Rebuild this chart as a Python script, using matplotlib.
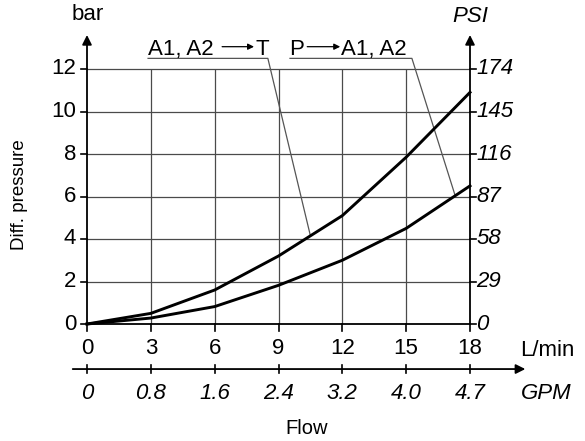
import matplotlib
matplotlib.use("Agg")
import matplotlib.pyplot as plt

plt.rcParams['font.family'] = ['Liberation Sans', 'DejaVu Sans']

# ----------------------------
# Data
# ----------------------------
flow_lpm = [0, 3, 6, 9, 12, 15, 18]
dp_a_to_t = [0, 0.5, 1.6, 3.2, 5.1, 7.85, 10.9]   # A1, A2 -> T
dp_p_to_a = [0, 0.28, 0.82, 1.82, 3.0, 4.5, 6.5]  # P -> A1, A2

bar_ticks = [0, 2, 4, 6, 8, 10, 12]
psi_labels = ["0", "29", "58", "87", "116", "145", "174"]
gpm_labels = ["0", "0.8", "1.6", "2.4", "3.2", "4.0", "4.7"]

FS = 16

# ----------------------------
# Figure
# ----------------------------
fig = plt.figure(figsize=(5.85, 4.41), dpi=100)
ax = fig.add_axes([87 / 585, 1 - 324 / 441, 383 / 585, 289 / 441])
ax.set_xlim(0, 18)
ax.set_ylim(0, 13.6)
for s in ax.spines.values():
    s.set_visible(False)
ax.set_xticks([])
ax.set_yticks([])

grid_kw = dict(color="#4a4a4a", lw=0.9, zorder=1)
ax.hlines(bar_ticks[1:], 0, 18, **grid_kw)
ax.vlines(flow_lpm[1:-1], 0, 12, **grid_kw)

# axes with arrows
arrow_kw = dict(arrowstyle="-|>", color="black", lw=1.3, mutation_scale=14, shrinkA=0, shrinkB=0)
ax.annotate("", xy=(0, 13.6), xytext=(0, 0), arrowprops=arrow_kw, annotation_clip=False)
ax.annotate("", xy=(18, 13.6), xytext=(18, 0), arrowprops=arrow_kw, annotation_clip=False)
ax.plot([0, 18], [0, 0], color="black", lw=1.3, clip_on=False, zorder=3)

tick_len = 0.32
for i, v in enumerate(bar_ticks):
    ax.plot([-0.3, 0], [v, v], color="black", lw=1.2, clip_on=False)
    ax.plot([18, 18.3], [v, v], color="black", lw=1.2, clip_on=False)
    ax.text(-0.5, v, str(v), ha="right", va="center", fontsize=FS)
    ax.text(18.3, v, psi_labels[i], ha="left", va="center", fontsize=FS, style="italic")

for x in flow_lpm:
    ax.plot([x, x], [0, -tick_len], color="black", lw=1.2, clip_on=False)
    ax.text(x, -1.13, str(x), ha="center", va="center", fontsize=FS)

# second flow axis (GPM)
y2 = -2.12
ax.annotate("", xy=(20.6, y2), xytext=(-0.67, y2), arrowprops=arrow_kw, annotation_clip=False)
for x, lab in zip(flow_lpm, gpm_labels):
    ax.plot([x, x], [y2 - 0.2, y2 + 0.2], color="black", lw=1.2, clip_on=False)
    ax.text(x, -3.27, lab, ha="center", va="center", fontsize=FS, style="italic")

ax.text(20.35, -1.25, "L/min", ha="left", va="center", fontsize=FS)
ax.text(20.4, -3.27, "GPM", ha="left", va="center", fontsize=FS, style="italic")
ax.text(0.05, 14.55, "bar", ha="center", va="center", fontsize=FS)
ax.text(18, 14.45, "PSI", ha="center", va="center", fontsize=FS, style="italic")
fig.text(20 / 585, 1 - 195 / 441, "Diff. pressure", rotation=90, ha="center", va="center", fontsize=13.5)
fig.text(307 / 585, 1 - 428 / 441, "Flow", ha="center", va="center", fontsize=14.5)

# curves
ax.plot(flow_lpm, dp_a_to_t, color="black", lw=2.1, zorder=4, clip_on=False)
ax.plot(flow_lpm, dp_p_to_a, color="black", lw=2.1, zorder=4, clip_on=False)

# leader labels
lead_kw = dict(color="#555555", lw=0.9, clip_on=False, zorder=2)
ax.plot([2.87, 8.5, 10.5], [12.5, 12.5, 4.15], **lead_kw)
ax.plot([9.54, 15.27, 17.3], [12.5, 12.5, 6.05], **lead_kw)

small_arrow = dict(arrowstyle="-|>", color="black", lw=0.9, mutation_scale=9, shrinkA=0, shrinkB=0)
ty = 12.66
ax.text(2.85, ty, "A1, A2", ha="left", va="baseline", fontsize=FS)
ax.annotate("", xy=(7.85, 13.05), xytext=(6.35, 13.05), arrowprops=small_arrow, annotation_clip=False)
ax.text(7.9, ty, "T", ha="left", va="baseline", fontsize=FS)
ax.text(9.5, ty, "P", ha="left", va="baseline", fontsize=FS)
ax.annotate("", xy=(11.9, 13.05), xytext=(10.35, 13.05), arrowprops=small_arrow, annotation_clip=False)
ax.text(11.94, ty, "A1, A2", ha="left", va="baseline", fontsize=FS)

fig.savefig("out.png", dpi=100)
